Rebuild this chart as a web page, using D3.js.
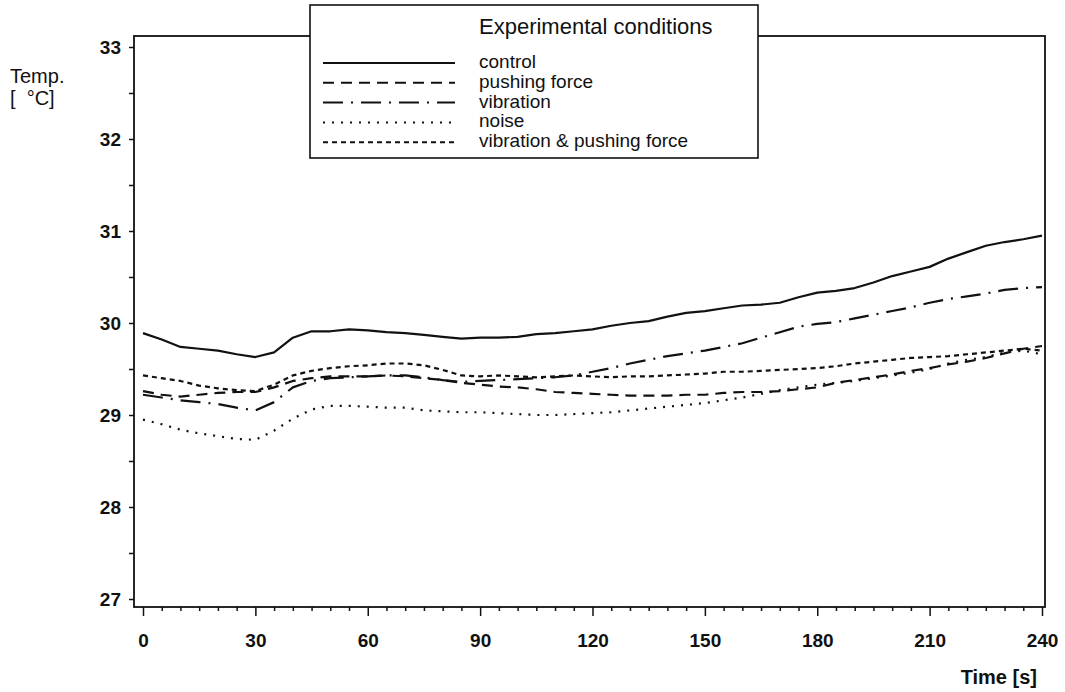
<!DOCTYPE html>
<html lang="en">
<head>
  <meta charset="UTF-8" />
  <title>Temperature under experimental conditions</title>
  <style>
    html, body {
      margin: 0; padding: 0;
      background: #fff;
    }
    svg {
      display: block;
      font-family: "Liberation Sans", Arial, sans-serif;
    }
    .line {
      fill: none;
      stroke: #111;
      stroke-width: 2.2px;
      stroke-linejoin: round;
    }
    .frame {
      fill: none;
      stroke: #111;
      stroke-width: 1.8px;
    }
    .axis path { display: none; }
    .axis line { stroke: #111; stroke-width: 1.5px; }
    .axis text {
      font-family: "Liberation Sans", Arial, sans-serif;
      font-size: 19px;
      font-weight: bold;
      fill: #111;
    }
  </style>
</head>
<body>
  <svg width="1065" height="692"></svg>

  <script src="https://d3js.org/d3.v7.min.js"></script>
  <script>
    // time points (s)
    const time = [0, 5, 10, 15, 20, 25, 30, 35, 40, 45, 50, 55, 60, 65, 70, 75, 80, 85, 90, 95,
      100, 105, 110, 115, 120, 125, 130, 135, 140, 145, 150, 155, 160, 165, 170, 175, 180, 185, 190, 195,
      200, 205, 210, 215, 220, 225, 230, 235, 240];

    // temperatures (°C)
    const control = [29.89, 29.82, 29.74, 29.72, 29.70, 29.66, 29.63, 29.68, 29.84, 29.91, 29.91, 29.93, 29.92, 29.90, 29.89, 29.87, 29.85, 29.83, 29.84, 29.84,
      29.85, 29.88, 29.89, 29.91, 29.93, 29.97, 30.00, 30.02, 30.07, 30.11, 30.13, 30.16, 30.19, 30.20, 30.22, 30.28, 30.33, 30.35, 30.38, 30.44,
      30.51, 30.56, 30.61, 30.70, 30.77, 30.84, 30.88, 30.91, 30.95];
    const pushingForce = [29.26, 29.22, 29.20, 29.22, 29.24, 29.25, 29.25, 29.30, 29.37, 29.40, 29.42, 29.42, 29.42, 29.43, 29.42, 29.40, 29.38, 29.35, 29.33, 29.31,
      29.30, 29.28, 29.25, 29.24, 29.23, 29.22, 29.21, 29.21, 29.21, 29.22, 29.22, 29.24, 29.25, 29.25, 29.26, 29.28, 29.30, 29.35, 29.38, 29.41,
      29.44, 29.48, 29.51, 29.55, 29.58, 29.62, 29.67, 29.72, 29.75];
    const vibration = [29.22, 29.19, 29.16, 29.14, 29.12, 29.08, 29.05, 29.14, 29.30, 29.37, 29.40, 29.41, 29.42, 29.43, 29.43, 29.41, 29.38, 29.36, 29.37, 29.38,
      29.39, 29.40, 29.41, 29.43, 29.47, 29.51, 29.56, 29.60, 29.64, 29.67, 29.70, 29.74, 29.78, 29.84, 29.90, 29.96, 29.99, 30.01, 30.05, 30.09,
      30.13, 30.17, 30.22, 30.26, 30.29, 30.32, 30.36, 30.38, 30.39];
    const noise = [28.95, 28.90, 28.84, 28.80, 28.77, 28.74, 28.73, 28.83, 28.96, 29.06, 29.10, 29.10, 29.09, 29.08, 29.08, 29.05, 29.04, 29.03, 29.03, 29.02,
      29.01, 29.00, 29.00, 29.01, 29.02, 29.03, 29.05, 29.07, 29.09, 29.11, 29.13, 29.16, 29.19, 29.23, 29.27, 29.30, 29.33, 29.35, 29.37, 29.40,
      29.43, 29.46, 29.50, 29.56, 29.60, 29.63, 29.68, 29.70, 29.66];
    const vibrationPushing = [29.43, 29.40, 29.37, 29.32, 29.29, 29.27, 29.26, 29.33, 29.43, 29.48, 29.51, 29.53, 29.54, 29.56, 29.56, 29.54, 29.49, 29.43, 29.42, 29.43,
      29.42, 29.41, 29.42, 29.43, 29.42, 29.41, 29.42, 29.42, 29.43, 29.44, 29.45, 29.47, 29.47, 29.48, 29.49, 29.50, 29.51, 29.53, 29.56, 29.58,
      29.60, 29.62, 29.63, 29.64, 29.66, 29.68, 29.70, 29.72, 29.70];

    const names = ["control", "pushing force", "vibration", "noise", "vibration & pushing force"];
    const values = [control, pushingForce, vibration, noise, vibrationPushing];
    const xTicks = [0, 30, 60, 90, 120, 150, 180, 210, 240];
    const yTicks = [27, 28, 29, 30, 31, 32, 33];

    const dashes = ["none", "11,7", "20,8,2,8", "2,7", "5,4"];

    const svg = d3.select("svg");
    const x = d3.scaleLinear().domain([0, 240]).range([143, 1042]);
    const y = d3.scaleLinear().domain([27, 33]).range([599, 47]);

    const frameLeft = 134, frameRight = 1045, frameTop = 36, frameBottom = 607;

    svg.append("rect")
      .attr("class", "frame")
      .attr("x", frameLeft).attr("y", frameTop)
      .attr("width", frameRight - frameLeft).attr("height", frameBottom - frameTop);

    // y axis, minor ticks every 0.5
    const yMinor = d3.range(27, 33.01, 0.5);
    svg.append("g")
      .attr("class", "axis")
      .attr("transform", `translate(${frameLeft},0)`)
      .call(d3.axisLeft(y).tickValues(yMinor).tickSize(5).tickPadding(8)
        .tickFormat(d => yTicks.includes(d) ? d : ""));

    // x axis, minor ticks every 5 s
    const xMinor = d3.range(0, 241, 5);
    const gx = svg.append("g")
      .attr("class", "axis")
      .attr("transform", `translate(0,${frameBottom})`)
      .call(d3.axisBottom(x).tickValues(xMinor).tickSize(4)
        .tickFormat(d => xTicks.includes(d) ? d : ""));
    gx.selectAll(".tick line").attr("y2", d => xTicks.includes(d) ? 9 : 4);
    gx.selectAll(".tick text").attr("y", 27);

    const line = d3.line()
      .x((d, i) => x(time[i]))
      .y(d => y(d));

    svg.append("g")
      .selectAll("path")
      .data(values)
      .join("path")
      .attr("class", "line")
      .attr("stroke-dasharray", (d, i) => dashes[i])
      .attr("d", line);

    // axis titles
    svg.append("text").attr("x", 10).attr("y", 83)
      .style("font-size", "20px").attr("fill", "#111").text("Temp.");
    svg.append("text").attr("x", 10).attr("y", 105)
      .style("font-size", "20px").style("white-space", "pre").attr("fill", "#111").text("[  °C]");
    svg.append("text").attr("x", 1037).attr("y", 684)
      .attr("text-anchor", "end")
      .style("font-size", "20px").style("font-weight", "bold").attr("fill", "#111")
      .text("Time [s]");

    // legend box
    const lg = svg.append("g");
    lg.append("rect")
      .attr("x", 310).attr("y", 5).attr("width", 448).attr("height", 153)
      .attr("fill", "#fff").attr("stroke", "#111").attr("stroke-width", 1.6);
    lg.append("text").attr("x", 479).attr("y", 34)
      .style("font-size", "22px").attr("fill", "#111")
      .text("Experimental conditions");

    const entry = lg.selectAll(".entry")
      .data(names)
      .join("g")
      .attr("class", "entry")
      .attr("transform", (d, i) => `translate(0,${62 + i * 19.8})`);
    entry.append("line")
      .attr("x1", 323).attr("x2", 455).attr("y1", 1).attr("y2", 1)
      .attr("stroke", "#111").attr("stroke-width", 2)
      .attr("stroke-dasharray", (d, i) => dashes[i]);
    entry.append("text")
      .attr("x", 479).attr("y", 6)
      .style("font-size", "19px").attr("fill", "#111")
      .text(d => d);
  </script>
</body>
</html>
